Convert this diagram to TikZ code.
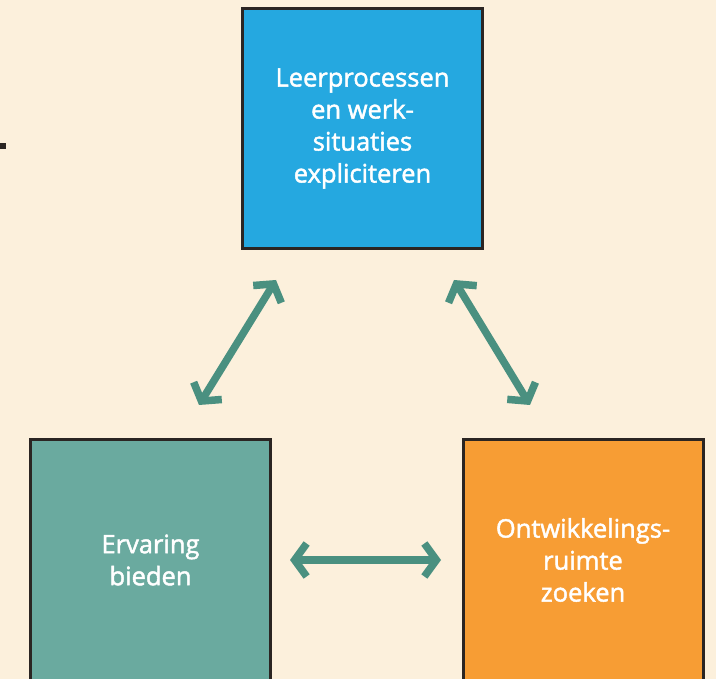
\documentclass[tikz,border=0pt]{standalone}
\usepackage{fontspec}
\setmainfont{Open Sans}[FakeBold=1.8]
\usetikzlibrary{arrows.meta}
\definecolor{bg}{HTML}{FCF0DC}
\definecolor{cblue}{HTML}{25A8E0}
\definecolor{cteal}{HTML}{6AAA9F}
\definecolor{corange}{HTML}{F79D34}
\definecolor{carrow}{HTML}{4A9080}
\definecolor{cborder}{HTML}{2B2522}
\begin{document}
\begin{tikzpicture}[x=1pt,y=-1pt,
  box/.style={draw=cborder,line width=3pt,minimum width=240pt,minimum height=240pt,
    text=white,align=center,font=\fontsize{25.5}{32}\selectfont,inner sep=0pt},
  link/.style={carrow,line width=7.5pt,{Straight Barb[length=12pt,width=33pt]}-{Straight Barb[length=12pt,width=33pt]}}]
\fill[bg] (0,0) rectangle (716,679);
\useasboundingbox (0,0) rectangle (716,679);
\node[box,fill=cblue] (top) at (362.5,128.5) {Leerprocessen\\en werk-\\situaties\\expliciteren};
\node[box,fill=cteal] (left) at (150.5,560) {Ervaring\\bieden};
\node[box,fill=corange] (right) at (583,560) {Ontwikkelings-\\ruimte\\zoeken};
\node[fill=cborder,minimum size=6pt,inner sep=0pt] (dot) at (3,146) {};
\coordinate (a1) at (199,405);
\coordinate (a2) at (276,280);
\coordinate (b1) at (454,280);
\coordinate (b2) at (530,405);
\coordinate (c1) at (290,560);
\coordinate (c2) at (441,560);
\draw[link] (a1) -- (a2);
\draw[link] (b1) -- (b2);
\draw[link] (c1) -- (c2);
\end{tikzpicture}
\end{document}
